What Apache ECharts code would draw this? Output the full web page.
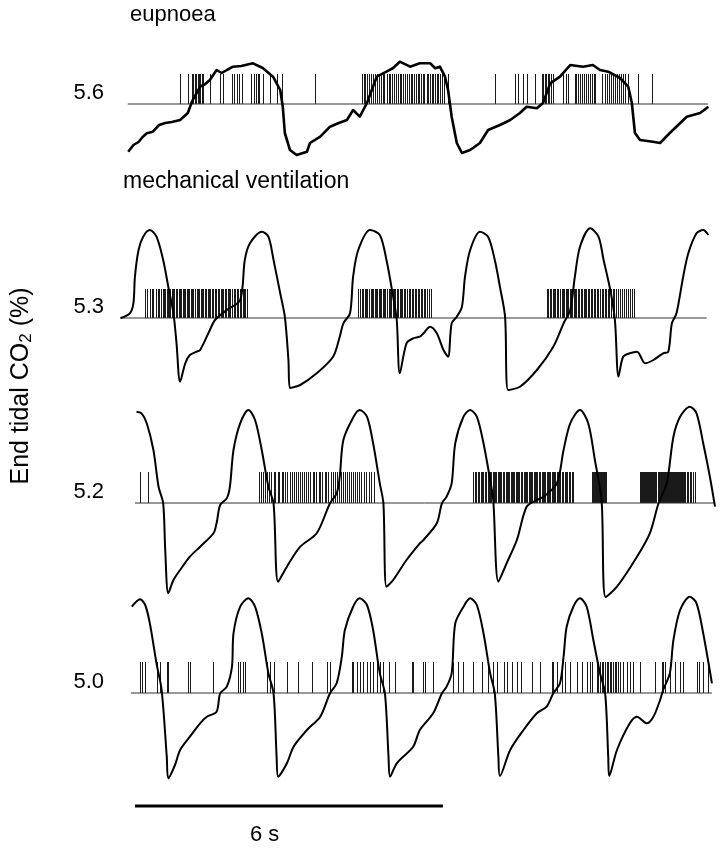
<!DOCTYPE html>
<html>
<head>
<meta charset="utf-8">
<script src="https://cdn.jsdelivr.net/npm/echarts@6/dist/echarts.min.js"></script>
<style>
  html, body {margin: 0; padding: 0; background: #fff;}
  #chart {width: 722px; height: 849px;}
</style>
</head>
<body>
<div id="chart"></div>
<script>
// time in s, trace value = deflection from the baseline (arbitrary units, up = more CO2)
var baseLabels = ['5.6', '5.3', '5.2', '5.0'];   // end tidal CO2 (%) of each baseline
var panelTitles = ['eupnoea', 'mechanical ventilation'];

var trace1 = [
    [0.20, -47.7], [0.30, -41], [0.40, -38], [0.48, -33], [0.56, -29.3], [0.68, -27.7], [0.80, -21], [0.92, -19],
    [1.05, -18], [1.21, -16], [1.36, -9], [1.44, 2.3], [1.60, 17.3], [1.70, 20], [1.79, 24], [1.92, 34],
    [2.02, 31], [2.12, 34], [2.24, 37.3], [2.40, 38], [2.63, 40.7], [2.82, 36], [3.02, 27.3], [3.16, 14],
    [3.21, -2.7], [3.25, -29], [3.35, -46], [3.48, -51], [3.68, -47.7], [3.74, -39], [3.94, -32.7],
    [4.13, -22.7], [4.30, -19], [4.46, -16], [4.58, -6], [4.71, -12.7], [4.85, 1], [5.04, 27.3],
    [5.23, 32.3], [5.36, 36], [5.49, 42.3], [5.69, 37.3], [5.88, 40.7], [6.08, 40.7], [6.18, 35.7],
    [6.27, 37.3], [6.37, 27.3], [6.43, 14], [6.50, -12.7], [6.60, -39], [6.70, -49], [6.86, -46],
    [7.05, -39], [7.21, -26], [7.44, -21], [7.64, -16], [7.83, -9], [7.96, -2.7], [8.16, -4.3],
    [8.28, 1], [8.42, 20.7], [8.61, 27.3], [8.81, 39], [9.06, 37.3], [9.25, 39], [9.39, 34],
    [9.55, 32.3], [9.78, 26], [9.94, 17.3], [10.01, 1], [10.07, -29], [10.17, -36], [10.42, -37.7],
    [10.56, -39], [10.75, -29], [11.08, -12.7], [11.34, -9], [11.50, -2.7]
];
var trace2 = [
    [0.05, 0], [0.23, 4.7], [0.30, 14.7], [0.33, 41.3], [0.40, 68], [0.49, 81.3], [0.62, 88], [0.75, 81.3],
    [0.88, 58], [0.98, 31.3], [1.08, 4.7], [1.14, -25.3], [1.21, -63.7], [1.31, -45.3], [1.40, -37],
    [1.53, -33.7], [1.60, -32], [1.79, -12], [1.89, -2], [2.12, 8], [2.38, 18], [2.47, 58], [2.57, 74.7],
    [2.80, 86.3], [2.93, 81.3], [3.03, 58], [3.16, 24.7], [3.25, 1.3], [3.32, -42], [3.35, -70],
    [3.55, -67], [3.87, -55.3], [4.19, -38.7], [4.32, -18.7], [4.39, -5.3], [4.52, 4.7], [4.58, 41.3],
    [4.68, 68], [4.91, 88], [5.10, 83], [5.23, 58], [5.36, 21.3], [5.43, -2], [5.49, -55.3],
    [5.62, -25.3], [5.75, -20.3], [5.88, -18.7], [5.95, -15.3], [6.08, -8.7], [6.21, -15.3],
    [6.34, -32], [6.43, -38.7], [6.50, -5.3], [6.60, 1.3], [6.70, 11.3], [6.76, 41.3], [6.86, 68],
    [7.05, 86.3], [7.21, 81.3], [7.34, 58], [7.44, 31.3], [7.54, 1.3], [7.60, -72], [7.83, -68.7],
    [8.16, -52], [8.48, -28.7], [8.68, -5.3], [8.81, 8], [8.90, 41.3], [9.00, 71.3], [9.20, 89.7],
    [9.36, 81.3], [9.46, 58], [9.59, 28], [9.68, -2], [9.75, -58.7], [9.84, -38.7], [9.97, -35.3],
    [10.11, -33.7], [10.27, -45.3], [10.43, -42], [10.62, -35.3], [10.72, -33.7], [10.79, -5.3],
    [10.88, 4.7], [11.01, 41.3], [11.11, 64.7], [11.27, 84.7], [11.40, 88], [11.50, 83]
];
var trace3 = [
    [0.36, 91.3], [0.46, 89.7], [0.56, 79.7], [0.69, 53], [0.79, 16.3], [0.88, -0.3], [0.92, -47],
    [0.98, -90.3], [1.08, -77], [1.21, -67], [1.40, -53.7], [1.60, -43.7], [1.86, -30.3], [1.92, -20.3],
    [1.99, -2], [2.12, 4.7], [2.18, 16.3], [2.25, 53], [2.38, 79.7], [2.54, 93], [2.67, 83], [2.80, 53],
    [2.93, 16.3], [3.03, -0.3], [3.12, -78.7], [3.29, -63.7], [3.55, -43.7], [3.87, -30.3], [4.13, -0.3],
    [4.26, 9.7], [4.32, 26.3], [4.39, 63], [4.59, 86.3], [4.71, 93], [4.85, 86.3], [4.97, 59.7],
    [5.10, 19.7], [5.17, -0.3], [5.23, -83.7], [5.36, -77], [5.62, -57], [5.88, -40.3], [5.95, -37],
    [6.21, -20.3], [6.31, -0.3], [6.40, 6.3], [6.50, 19.7], [6.57, 59.7], [6.73, 86.3], [6.86, 93],
    [6.99, 86.3], [7.12, 59.7], [7.25, 23], [7.31, 3], [7.41, -78.7], [7.57, -60.3], [7.77, -37],
    [7.96, -3.7], [8.16, 3], [8.29, 6.3], [8.55, 19.7], [8.68, 53], [8.81, 79.7], [9.00, 93], [9.16, 79.7],
    [9.29, 43], [9.42, 3], [9.50, -94], [9.72, -83.7], [10.11, -53.7], [10.36, -30.3], [10.53, -0.3],
    [10.69, 19.7], [10.82, 66.3], [10.95, 86.3], [11.14, 96.3], [11.27, 89.7], [11.40, 59.7],
    [11.53, 26.3], [11.63, -3.7]
];
var trace4 = [
    [0.27, 86.3], [0.43, 93.7], [0.53, 88], [0.62, 69.7], [0.75, 29.7], [0.85, 3], [0.95, -63.7],
    [0.98, -85.3], [1.11, -72], [1.21, -57], [1.40, -43.7], [1.60, -30.3], [1.73, -23.7], [1.92, -18.7],
    [1.99, -0.3], [2.12, 6.3], [2.22, 26.3], [2.25, 59.7], [2.38, 86.3], [2.54, 94.7], [2.67, 86.3],
    [2.80, 59.7], [2.93, 19.7], [3.03, -0.3], [3.09, -63.7], [3.12, -83.7], [3.29, -70.3], [3.42, -53.7],
    [3.68, -37], [3.94, -23.7], [4.13, -0.3], [4.26, 9.7], [4.36, 36.3], [4.42, 63], [4.58, 86.3],
    [4.71, 94.7], [4.85, 88], [4.97, 63], [5.10, 19.7], [5.20, -0.3], [5.27, -63.7], [5.30, -83.7],
    [5.43, -70.3], [5.75, -53.7], [5.88, -37], [6.14, -20.3], [6.31, -0.3], [6.40, 6.3], [6.50, 19.7],
    [6.57, 69.7], [6.73, 86.3], [6.86, 94.7], [6.99, 88], [7.12, 59.7], [7.25, 19.7], [7.34, -0.3],
    [7.41, -63.7], [7.44, -83], [7.64, -57], [7.90, -37], [8.16, -20.3], [8.35, -13.7], [8.48, -0.3],
    [8.61, 9.7], [8.68, 36.3], [8.74, 66.3], [8.87, 86.3], [9.00, 94.7], [9.13, 86.3], [9.26, 53],
    [9.39, 19.7], [9.49, -0.3], [9.55, -63.7], [9.57, -83], [9.72, -57], [9.97, -30.3], [10.11, -23.7],
    [10.30, -30.3], [10.43, -23.7], [10.56, -7], [10.62, 3], [10.75, 19.7], [10.82, 53], [10.95, 83],
    [11.14, 96.3], [11.27, 89.7], [11.40, 59.7], [11.57, 9.7]
];

// spike times (s) of the recorded unit
var spikes1 = [
    1.21, 1.37, 1.44, 1.47, 1.50, 1.52, 1.55, 1.57, 1.60, 1.63, 1.66, 1.79, 1.99, 2.05, 2.22, 2.26, 2.31,
    2.35, 2.41, 2.60, 2.64, 2.69, 2.72, 2.75, 2.82, 2.96, 3.09, 3.19, 3.84,
    4.75, 4.79, 4.82, 4.86, 4.88, 4.93, 4.97, 5.00, 5.05, 5.08, 5.13, 5.16, 5.19, 5.24, 5.27, 5.30, 5.34,
    5.38, 5.41, 5.46, 5.49, 5.52, 5.56, 5.60, 5.63, 5.67, 5.70, 5.73, 5.77, 5.80, 5.84, 5.87, 5.91, 5.94,
    5.97, 6.01, 6.04, 6.07, 6.11, 6.14, 6.17, 6.21, 6.24, 6.28, 6.32, 6.36, 6.42,
    7.34, 7.73, 7.79, 7.89, 7.96, 8.12, 8.25, 8.28, 8.31, 8.34, 8.37, 8.40, 8.44, 8.47, 8.67, 8.72, 8.77,
    8.90, 8.93, 8.97, 9.00, 9.04, 9.08, 9.12, 9.15, 9.19, 9.23, 9.27, 9.30, 9.42, 9.49, 9.53, 9.57, 9.60,
    9.64, 9.68, 9.72, 9.76, 9.80, 9.84, 9.88, 9.93, 10.13, 10.40
];
var spikes2 = [
    0.53, 0.57, 0.62, 0.66, 0.69, 0.74, 0.77, 0.80, 0.84, 0.87, 0.90, 0.92, 0.95, 0.97, 1.00, 1.02, 1.05,
    1.08, 1.10, 1.13, 1.15, 1.18, 1.21, 1.23, 1.26, 1.29, 1.31, 1.34, 1.36, 1.39, 1.42, 1.45, 1.47, 1.50,
    1.53, 1.55, 1.58, 1.61, 1.64, 1.66, 1.69, 1.72, 1.75, 1.78, 1.80, 1.83, 1.86, 1.88, 1.91, 1.94, 1.97,
    2.00, 2.02, 2.05, 2.08, 2.11, 2.14, 2.17, 2.19, 2.22, 2.25, 2.28, 2.31, 2.34, 2.37, 2.40, 2.43, 2.46,
    2.48, 2.51,
    4.68, 4.71, 4.75, 4.78, 4.81, 4.84, 4.86, 4.89, 4.92, 4.94, 4.97, 5.00, 5.02, 5.05, 5.08, 5.10, 5.13,
    5.16, 5.18, 5.21, 5.24, 5.27, 5.29, 5.32, 5.35, 5.38, 5.40, 5.43, 5.46, 5.49, 5.52, 5.54, 5.57, 5.60,
    5.63, 5.66, 5.69, 5.72, 5.75, 5.78, 5.81, 5.84, 5.87, 5.90, 5.93, 5.96, 5.99, 6.02, 6.05, 6.09,
    8.35, 8.37, 8.41, 8.44, 8.47, 8.50, 8.52, 8.55, 8.58, 8.61, 8.64, 8.66, 8.69, 8.72, 8.74, 8.77, 8.80,
    8.82, 8.85, 8.88, 8.91, 8.93, 8.96, 8.99, 9.01, 9.04, 9.07, 9.10, 9.12, 9.15, 9.18, 9.21, 9.24, 9.27,
    9.30, 9.33, 9.36, 9.39, 9.42, 9.45, 9.48, 9.51, 9.54, 9.57, 9.60, 9.64, 9.67, 9.71, 9.74, 9.78, 9.82,
    9.86, 9.90, 9.94, 9.98, 10.01, 10.05
];
var spikes3 = [
    0.43, 0.59,
    2.75, 2.78, 2.82, 2.87, 2.90, 2.94, 2.99, 3.03, 3.06, 3.11, 3.14, 3.19, 3.22, 3.26, 3.30, 3.35, 3.38,
    3.42, 3.47, 3.50, 3.55, 3.58, 3.62, 3.67, 3.70, 3.74, 3.79, 3.82, 3.86, 3.91, 3.94, 3.98, 4.03, 4.06,
    4.10, 4.15, 4.18, 4.22, 4.27, 4.30, 4.34, 4.38, 4.42, 4.46, 4.50, 4.54, 4.58, 4.62, 4.66, 4.70, 4.74,
    4.79, 4.83, 4.88, 4.93, 4.99,
    6.92, 6.95, 6.98, 7.01, 7.04, 7.07, 7.10, 7.12, 7.15, 7.17, 7.20, 7.22, 7.25, 7.27, 7.30, 7.32, 7.35,
    7.37, 7.40, 7.42, 7.45, 7.47, 7.50, 7.52, 7.55, 7.57, 7.60, 7.62, 7.65, 7.67, 7.70, 7.72, 7.75, 7.77,
    7.80, 7.82, 7.85, 7.87, 7.90, 7.92, 7.95, 7.97, 8.00, 8.02, 8.05, 8.07, 8.10, 8.12, 8.15, 8.17, 8.20,
    8.22, 8.25, 8.27, 8.30, 8.32, 8.35, 8.37, 8.40, 8.42, 8.45, 8.47, 8.50, 8.52, 8.55, 8.57, 8.60, 8.62,
    8.65, 8.67, 8.70, 8.72, 8.75, 8.78, 8.81, 8.84, 8.87,
    9.23, 9.25, 9.27, 9.29, 9.31, 9.33, 9.35, 9.37, 9.39, 9.41, 9.43, 9.45, 9.47, 9.49, 9.51,
    10.17, 10.19, 10.21, 10.23, 10.25, 10.27, 10.29, 10.31, 10.33, 10.35, 10.37, 10.39, 10.41, 10.43,
    10.45, 10.47, 10.49, 10.51, 10.53, 10.55, 10.57, 10.59, 10.61, 10.63, 10.65, 10.67, 10.69, 10.71,
    10.73, 10.75, 10.77, 10.79, 10.81, 10.83, 10.85, 10.87, 10.89, 10.91, 10.93, 10.95, 10.97, 10.99,
    11.01, 11.03, 11.05, 11.08, 11.11, 11.14, 11.17, 11.20, 11.24
];
var spikes4 = [
    0.43, 0.46, 0.53, 0.75, 0.82, 0.95, 0.98, 1.37, 1.40, 1.86, 2.33, 2.38, 2.44, 2.47, 2.90, 2.96, 3.03,
    3.29, 3.51, 3.77, 4.07, 4.13, 4.55, 4.58, 4.65, 4.71, 4.78, 4.85, 4.91, 4.97, 5.04, 5.10, 5.17, 5.27,
    5.40, 5.72, 5.75, 5.95, 5.98, 6.14, 6.53, 6.63, 6.73, 6.92, 7.09, 7.21, 7.31, 7.38, 7.51, 7.57, 7.67,
    7.77, 7.86, 8.06, 8.22, 8.45, 8.48, 8.55, 8.64, 8.71, 8.81, 8.94, 9.03, 9.13, 9.20, 9.23,
    9.33, 9.36, 9.39, 9.42, 9.45, 9.49, 9.52, 9.55, 9.58, 9.61, 9.65, 9.68, 9.71, 9.74, 9.78, 9.84, 9.91,
    9.97, 10.04, 10.17, 10.46, 10.59, 10.62, 10.66, 10.75, 10.85, 10.95, 11.01, 11.27, 11.31, 11.40, 11.50
];

// start / end (s) of each baseline
var baseSpans = [[0.19, 11.49], [0.04, 11.47], [0.33, 11.61], [0.25, 11.57]];
// time calibration bar: start (s), length (s)
var scaleBar = [0.33, 6];

var traces = [trace1, trace2, trace3, trace4];
var spikeSets = [spikes1, spikes2, spikes3, spikes4];

// layout of the four panels (px) and their y ranges (1 unit = 1 px)
var panelTop = [54, 224, 403, 593];
var panelHeight = [106, 170, 196, 248];
var yMin = [-56, -76, -96, -148];
var yMax = [50, 94, 100, 100];
var spikeHeight = [30, 29, 31, 31];
var traceWidth = [2.6, 2, 2, 2];
var traceSmooth = [0, 0.3, 0.3, 0.3];
var FONT = 'Liberation Sans';

function spikeRender(h) {
    return function (params, api) {
        var p0 = api.coord([api.value(0), 0]);
        var p1 = api.coord([api.value(0), h]);
        var x = Math.round(p0[0]) + 0.5;
        return {
            type: 'line',
            shape: {x1: x, y1: p0[1], x2: x, y2: p1[1]},
            style: {stroke: '#1a1a1a', lineWidth: 1}
        };
    };
}

var grids = [], xAxes = [], yAxes = [], series = [];
for (var i = 0; i < 4; i++) {
    grids.push({left: 118, right: 3.4, top: panelTop[i], height: panelHeight[i]});
    xAxes.push({gridIndex: i, type: 'value', min: 0, max: 11.7, show: false});
    (function (lab) {
        yAxes.push({
            gridIndex: i, type: 'value', min: yMin[i], max: yMax[i], interval: 4,
            axisLine: {show: false}, axisTick: {show: false}, splitLine: {show: false},
            axisLabel: {
                formatter: function (v) { return v === 0 ? lab : ''; },
                margin: 14, fontSize: 22, fontFamily: FONT, color: '#000',
                verticalAlign: 'bottom', lineHeight: 22
            }
        });
    })(baseLabels[i]);

    series.push({
        type: 'line', xAxisIndex: i, yAxisIndex: i, silent: true,
        data: [[baseSpans[i][0], 0], [baseSpans[i][1], 0]],
        symbol: 'none', lineStyle: {color: '#333', width: 1}
    });
    series.push({
        type: 'custom', xAxisIndex: i, yAxisIndex: i, silent: true,
        data: spikeSets[i].map(function (t) { return [t, 0]; }),
        encode: {x: 0, y: 1},
        renderItem: spikeRender(spikeHeight[i])
    });
    series.push({
        type: 'line', xAxisIndex: i, yAxisIndex: i, silent: true,
        data: traces[i], symbol: 'none',
        smooth: traceSmooth[i],
        lineStyle: {color: '#000', width: traceWidth[i], join: 'round'}
    });
}

// 6 s calibration bar under the last panel
series.push({
    type: 'line', xAxisIndex: 3, yAxisIndex: 3, silent: true,
    data: [[scaleBar[0], -113], [scaleBar[0] + scaleBar[1], -113]],
    symbol: 'none', lineStyle: {color: '#000', width: 3}
});

var myChart = echarts.init(document.getElementById('chart'));
myChart.setOption({
    animation: false,
    backgroundColor: '#fff',
    grid: grids,
    xAxis: xAxes,
    yAxis: yAxes,
    series: series,
    graphic: [
        {type: 'text', left: 130, top: 4, style: {text: panelTitles[0], font: '22px "' + FONT + '"', fill: '#000'}},
        {type: 'text', left: 123, top: 170, style: {text: panelTitles[1], font: '23px "' + FONT + '"', fill: '#000'}},
        {type: 'text', left: 250, top: 824, style: {text: scaleBar[1] + ' s', font: '22px "' + FONT + '"', fill: '#000'}},
        {
            type: 'text', x: 21, y: 386, rotation: Math.PI / 2,
            style: {
                text: '{a|End tidal CO}{s|2}{a| (%)}',
                align: 'center', verticalAlign: 'middle',
                rich: {
                    a: {fontSize: 25, fontFamily: FONT, lineHeight: 28, fill: '#000'},
                    s: {fontSize: 17, fontFamily: FONT, lineHeight: 15, verticalAlign: 'bottom', fill: '#000'}
                }
            }
        }
    ]
});
</script>
</body>
</html>
